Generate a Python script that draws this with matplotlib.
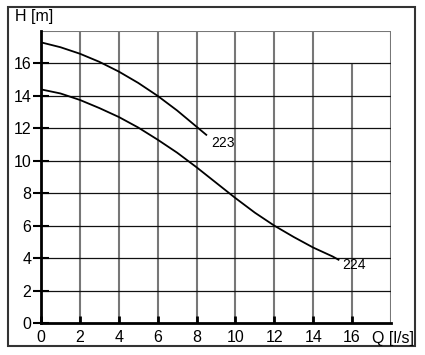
import matplotlib
matplotlib.use("Agg")
import matplotlib.pyplot as plt
from matplotlib.patches import Rectangle

plt.rcParams['font.family'] = ['Liberation Sans', 'DejaVu Sans']

q_223 = [0, 1, 2, 3, 4, 5, 6, 7, 8, 8.5]
h_223 = [17.3, 17.0, 16.6, 16.1, 15.5, 14.8, 14.0, 13.1, 12.1, 11.6]

q_224 = [0, 1, 2, 3, 4, 5, 6, 7, 8, 9, 10, 11, 12, 13, 14, 15, 15.3]
h_224 = [14.4, 14.15, 13.75, 13.25, 12.7, 12.05, 11.3, 10.5, 9.6, 8.65, 7.7, 6.8, 6.0, 5.3, 4.65, 4.1, 3.9]

x_ticks = [0, 2, 4, 6, 8, 10, 12, 14, 16]
y_ticks = [0, 2, 4, 6, 8, 10, 12, 14, 16]
labels = ["223", "224"]

fig = plt.figure(figsize=(4.25, 3.55), dpi=100)
ax = fig.add_axes([41/425, 1-323/355, (391-41)/425, (323-31)/355])

# outer frame
fig.patches.append(Rectangle((8/425, 1-346/355), (415-8)/425, (346-7)/355,
                             transform=fig.transFigure, fill=False,
                             edgecolor='#333333', linewidth=1.5))

ax.set_xlim(0, 18)
ax.set_ylim(0, 18)

# grid
for x in [2, 4, 6, 8, 10, 12, 14]:
    ax.axvline(x, color='#777777', linewidth=1.5, zorder=1)
ax.vlines(16, 0, 16, color='#777777', linewidth=1.5, zorder=1)
ax.axvline(18, color='#777777', linewidth=1.5, zorder=1)
for y in [2, 4, 6, 8, 10, 12, 14, 16]:
    ax.axhline(y, color='#111111', linewidth=0.9, zorder=1)
ax.axhline(18, color='#777777', linewidth=1.5, zorder=1)

ax.plot(q_223, h_223, color='black', linewidth=1.3, zorder=3)
ax.plot(q_224, h_224, color='black', linewidth=1.3, zorder=3)
ax.text(8.75, 11.1, labels[0], fontsize=10, ha='left', va='center')
ax.text(15.5, 3.6, labels[1], fontsize=10, ha='left', va='center')

for s in ['top', 'right']:
    ax.spines[s].set_visible(False)
ax.spines['left'].set_linewidth(2)
ax.spines['bottom'].set_linewidth(2)
ax.spines['left'].set_zorder(4)
ax.spines['bottom'].set_zorder(4)

ax.set_xticks(x_ticks)
ax.set_yticks(y_ticks)
ax.tick_params(axis='y', direction='inout', length=12, width=1.5, labelsize=11.5, pad=1)
ax.tick_params(axis='x', direction='in', length=5, width=2, labelsize=11.5, pad=5)

fig.text(15/425, 1-17/355, "H [m]", fontsize=11.5, ha='left', va='center')
fig.text(372/425, 1-338/355, "Q [l/s]", fontsize=11.5, ha='left', va='center')

fig.savefig("out.png", dpi=100)
